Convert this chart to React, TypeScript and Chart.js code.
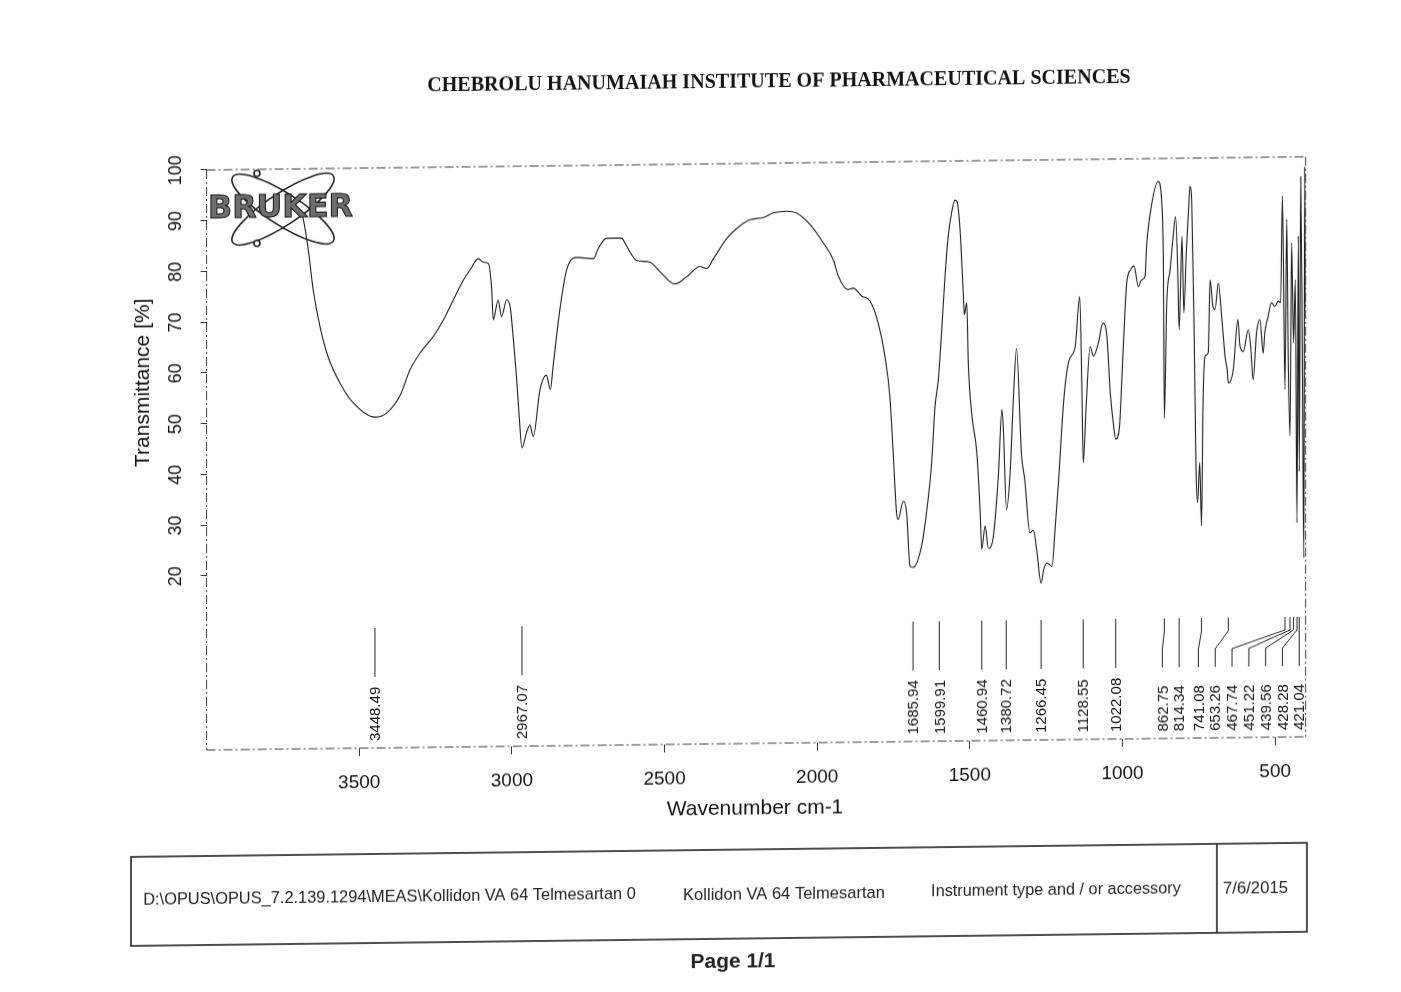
import React, { useEffect, useRef } from "react";
import { Chart, registerables } from "chart.js";

Chart.register(...registerables);

const wavenumbers = [
  3693, 3685, 3667, 3651, 3629, 3602, 3563, 3520, 3448.5, 3410, 3367, 3334, 3301, 3257, 3224, 3192,
  3159, 3137, 3110, 3094, 3077, 3066, 3061, 3045, 3034, 3017, 3006, 2996, 2985, 2976, 2967, 2952,
  2941, 2930, 2908, 2887, 2874, 2865, 2843, 2821, 2789, 2733, 2717, 2690, 2641, 2625, 2592, 2548,
  2515, 2466, 2428, 2384, 2362, 2339, 2296, 2264, 2220, 2176, 2144, 2100, 2066, 2023, 1979, 1947,
  1930, 1898, 1882, 1854, 1827, 1800, 1778, 1762, 1751, 1740, 1735, 1718, 1707, 1696, 1686, 1658,
  1642, 1625, 1614, 1603, 1592, 1582, 1571, 1560, 1549, 1542, 1532, 1521, 1518, 1510, 1505, 1494,
  1477, 1466, 1461, 1450, 1439, 1423, 1406, 1395, 1390, 1380, 1368, 1357, 1347, 1331, 1320, 1303,
  1292, 1281, 1266.5, 1258, 1247, 1231, 1220, 1209, 1193, 1176, 1155, 1140, 1133, 1128.5, 1119, 1106,
  1095, 1079, 1064, 1051, 1040, 1029, 1022, 1010, 1002, 992, 986, 973, 962, 948, 938, 926,
  921, 912, 883, 871, 866, 862.7, 855, 844, 834, 826, 819, 814.3, 805, 799, 791, 784,
  779, 773, 765, 759, 754, 747, 741, 736, 729, 719, 713, 704, 697, 686, 675, 664,
  657, 653.3, 637, 622, 615, 604, 588, 580, 572, 561, 550, 539, 534, 523, 512, 501,
  490, 482, 476, 467.7, 462, 457, 451.2, 446, 439.6, 434, 428.3, 424, 421, 416, 411, 406,
  403, 400,
];

const transmittance = [
  91.6, 90.5, 84.1, 76.2, 69.0, 62.9, 57.7, 53.8, 50.9, 51.7, 55.0, 60.1, 63.4, 66.7, 69.9, 73.8,
  77.7, 79.7, 81.9, 81.2, 80.9, 75.7, 69.8, 73.7, 70.4, 73.7, 72.5, 66.5, 58.6, 50.7, 44.5, 47.5,
  49.0, 46.7, 55.9, 58.8, 55.9, 60.5, 71.6, 79.4, 81.9, 81.6, 83.6, 85.6, 85.6, 84.1, 81.2, 80.8,
  78.9, 76.4, 77.8, 79.8, 79.4, 81.4, 85.3, 87.2, 88.9, 89.3, 90.2, 90.5, 90.1, 87.8, 84.1, 80.8,
  77.5, 74.9, 75.2, 73.6, 72.6, 68.2, 61.7, 53.8, 42.6, 30.8, 29.5, 33.1, 30.8, 20.3, 20.0, 24.2,
  30.7, 40.6, 51.7, 57.0, 66.8, 76.6, 85.1, 89.7, 92.3, 92.0, 86.4, 73.3, 69.7, 72.0, 60.2, 50.3,
  42.4, 30.6, 23.4, 28.0, 23.6, 25.9, 38.4, 50.9, 46.9, 31.2, 38.4, 53.5, 62.9, 42.2, 37.0, 26.5,
  27.1, 23.2, 16.6, 19.3, 20.6, 19.9, 27.8, 37.0, 52.1, 60.2, 63.1, 73.0, 55.2, 40.2, 51.3, 63.1,
  61.2, 63.8, 67.7, 65.1, 54.0, 47.4, 44.8, 47.1, 56.6, 69.7, 75.6, 78.2, 78.9, 74.8, 76.1, 76.8,
  82.7, 88.0, 95.5, 91.1, 79.3, 48.8, 71.5, 78.0, 84.6, 88.5, 78.0, 66.2, 84.6, 69.5, 81.3, 89.2,
  94.4, 91.1, 64.9, 38.6, 32.1, 40.0, 27.5, 51.8, 61.0, 61.6, 76.0, 70.8, 70.1, 75.3, 68.7, 60.9,
  58.2, 55.6, 58.2, 68.1, 62.8, 61.8, 66.0, 62.7, 56.2, 65.3, 68.0, 61.4, 65.3, 68.6, 71.3, 70.6,
  71.6, 71.3, 92.3, 54.2, 87.7, 60.1, 45.0, 83.1, 63.4, 75.8, 27.9, 84.4, 38.0, 96.1, 62.0, 21.0,
  98.0, 70.0,
];

const peakPositions = [
  3448.49, 2967.07, 1685.94, 1599.91, 1460.94, 1380.72, 1266.45, 1128.55, 1022.08,
  862.75, 814.34, 741.08, 653.26, 467.74, 451.22, 439.56, 428.28, 421.04,
];
const peakLabels = [
  "3448.49", "2967.07", "1685.94", "1599.91", "1460.94", "1380.72", "1266.45", "1128.55", "1022.08",
  "862.75", "814.34", "741.08", "653.26", "467.74", "451.22", "439.56", "428.28", "421.04",
];

const xTickValues = [3500, 3000, 2500, 2000, 1500, 1000, 500];
const yTickValues = [20, 30, 40, 50, 60, 70, 80, 90, 100];

const titleText = "CHEBROLU HANUMAIAH INSTITUTE OF PHARMACEUTICAL SCIENCES";
const xTitle = "Wavenumber cm-1";
const yTitle = "Transmittance [%]";
const logoText = "BRUKER";
const footerPath = "D:\\OPUS\\OPUS_7.2.139.1294\\MEAS\\Kollidon VA 64 Telmesartan 0";
const footerSample = "Kollidon VA 64 Telmesartan";
const footerInstrument = "Instrument type and / or accessory";
const footerDate = "7/6/2015";
const pageText = "Page 1/1";

const SANS = '"Liberation Sans", Arial, sans-serif';
const SERIF = '"Liberation Serif", "Times New Roman", serif';

function fitSize(ctx: CanvasRenderingContext2D, text: string, width: number, style: string, family: string) {
  ctx.font = `${style} 100px ${family}`;
  const w = ctx.measureText(text).width;
  return (100 * width) / w;
}

function drawFitted(
  ctx: CanvasRenderingContext2D,
  text: string,
  cx: number,
  cy: number,
  width: number,
  style: string,
  family: string,
  color: string
) {
  const size = fitSize(ctx, text, width, style, family);
  ctx.font = `${style} ${size}px ${family}`;
  ctx.fillStyle = color;
  ctx.textAlign = "center";
  ctx.textBaseline = "middle";
  ctx.fillText(text, cx, cy);
}

const decorPlugin = {
  id: "decor",
  afterDraw(chart: any) {
    const { ctx, chartArea, scales } = chart;
    const xs = scales.x;
    const ys = scales.y;
    ctx.save();

    // plot frame (scanned, broken thin lines)
    const top = ys.getPixelForValue(100);
    ctx.strokeStyle = "#3a3a3a";
    ctx.lineWidth = 1;
    ctx.setLineDash([9, 3, 2, 3]);
    ctx.beginPath();
    ctx.moveTo(chartArea.left, top);
    ctx.lineTo(chartArea.right, top);
    ctx.moveTo(chartArea.right, top);
    ctx.lineTo(chartArea.right, chartArea.bottom);
    ctx.moveTo(chartArea.left, chartArea.bottom);
    ctx.lineTo(chartArea.right, chartArea.bottom);
    ctx.moveTo(chartArea.left, top);
    ctx.lineTo(chartArea.left, chartArea.bottom);
    ctx.stroke();
    ctx.setLineDash([]);

    // peak markers
    const n = peakPositions.length;
    const px = peakPositions.map((p) => xs.getPixelForValue(p));
    const order = px.map((_, i) => i).sort((a, b) => px[a] - px[b]);
    const lab: number[] = new Array(n);
    let next = Infinity;
    for (let k = n - 1; k >= 0; k--) {
      const i = order[k];
      lab[i] = Math.min(px[i], next - 16.8);
      next = lab[i];
    }
    const lineTop = 630;
    const bendA = 643;
    const bendB = 661;
    const lineBottom = 679;
    ctx.strokeStyle = "#222";
    ctx.lineWidth = 1;
    ctx.font = `15px ${SANS}`;
    ctx.fillStyle = "#111";
    for (let i = 0; i < n; i++) {
      ctx.beginPath();
      ctx.moveTo(px[i], lineTop);
      if (Math.abs(px[i] - lab[i]) < 0.6) {
        ctx.lineTo(px[i], lineBottom);
      } else {
        ctx.lineTo(px[i], bendA);
        ctx.lineTo(lab[i], bendB);
        ctx.lineTo(lab[i], lineBottom);
      }
      ctx.stroke();
      ctx.save();
      ctx.translate(lab[i] + 1, 743);
      ctx.rotate(-Math.PI / 2);
      ctx.textAlign = "left";
      ctx.textBaseline = "middle";
      ctx.fillText(peakLabels[i], 0, 0);
      ctx.restore();
    }

    // axis titles
    ctx.fillStyle = "#111";
    ctx.font = `21px ${SANS}`;
    ctx.textAlign = "center";
    ctx.textBaseline = "middle";
    ctx.fillText(xTitle, 755, 815);
    ctx.save();
    ctx.translate(143, 382);
    ctx.rotate(-Math.PI / 2);
    ctx.fillText(yTitle, 0, 0);
    ctx.restore();

    // main title
    drawFitted(ctx, titleText, 779, 89, 704, "bold", SERIF, "#111");

    // logo
    ctx.save();
    ctx.translate(283, 210);
    ctx.strokeStyle = "#222";
    ctx.lineWidth = 1.6;
    for (const ang of [33, -33]) {
      ctx.save();
      ctx.rotate((ang * Math.PI) / 180);
      ctx.beginPath();
      ctx.ellipse(0, 0, 60, 16, 0, 0, Math.PI * 2);
      ctx.stroke();
      ctx.restore();
    }
    for (const [ex, ey] of [[-26, -36], [-26, 34]]) {
      ctx.beginPath();
      ctx.arc(ex, ey, 3, 0, Math.PI * 2);
      ctx.fillStyle = "#fff";
      ctx.fill();
      ctx.stroke();
    }
    ctx.restore();
    const lsize = fitSize(ctx, logoText, 145, "bold", '"DejaVu Sans", sans-serif');
    ctx.font = `bold ${lsize}px "DejaVu Sans", sans-serif`;
    ctx.textAlign = "center";
    ctx.textBaseline = "middle";
    ctx.fillStyle = "#6e6e6e";
    ctx.fillText(logoText, 280.5, 210);
    ctx.strokeStyle = "#111";
    ctx.lineWidth = 1;
    ctx.strokeText(logoText, 280.5, 210);

    // footer box
    ctx.strokeStyle = "#222";
    ctx.lineWidth = 1.6;
    ctx.strokeRect(131, 856, 1176, 89);
    ctx.beginPath();
    ctx.moveTo(1217, 856);
    ctx.lineTo(1217, 945);
    ctx.stroke();
    drawFitted(ctx, footerPath, 143 + 493 / 2, 899, 493, "normal", SANS, "#222");
    drawFitted(ctx, footerSample, 784, 901, 202, "normal", SANS, "#222");
    drawFitted(ctx, footerInstrument, 1056, 901, 250, "normal", SANS, "#222");
    drawFitted(ctx, footerDate, 1255.5, 901, 65, "normal", SANS, "#222");
    drawFitted(ctx, pageText, 733, 968, 85, "bold", SANS, "#222");

    ctx.restore();
  },
};

export default function App() {
  const canvasRef = useRef<HTMLCanvasElement | null>(null);

  useEffect(() => {
    const canvas = canvasRef.current;
    if (!canvas) return;
    const points = wavenumbers.map((w, i) => ({ x: w, y: transmittance[i] }));
    const chart = new Chart(canvas, {
      type: "line",
      data: {
        datasets: [
          {
            data: points,
            borderColor: "#1c1c1c",
            borderWidth: 1.1,
            pointRadius: 0,
            fill: false,
            cubicInterpolationMode: "monotone",
          },
        ],
      },
      options: {
        responsive: false,
        animation: false,
        events: [],
        layout: {
          padding: { left: 206.6 - 90, top: 164.925, right: 1401 - 1305.7, bottom: 992 - 750 - 60 },
        },
        plugins: {
          legend: { display: false },
          tooltip: { enabled: false },
          title: { display: false },
        },
        scales: {
          x: {
            type: "linear",
            reverse: true,
            min: 400,
            max: 4000,
            afterBuildTicks: (s: any) => {
              s.ticks = xTickValues.map((v) => ({ value: v }));
            },
            afterFit: (s: any) => {
              s.height = 60;
            },
            grid: { display: true, drawOnChartArea: false, drawTicks: true, tickLength: 8, color: "#333" },
            border: { display: false },
            ticks: {
              color: "#111",
              font: { family: SANS, size: 19 },
              padding: 15,
              maxRotation: 0,
              autoSkip: false,
              callback: (v: any) => String(v),
            },
          },
          y: {
            type: "linear",
            min: -14.29,
            max: 101,
            afterBuildTicks: (s: any) => {
              s.ticks = yTickValues.map((v) => ({ value: v }));
            },
            afterFit: (s: any) => {
              s.width = 90;
            },
            grid: { display: true, drawOnChartArea: false, drawTicks: true, tickLength: 6, color: "#333" },
            border: { display: false },
            ticks: {
              color: "#111",
              font: { family: SANS, size: 18 },
              padding: 10,
              minRotation: 90,
              maxRotation: 90,
              crossAlign: "center",
              autoSkip: false,
              callback: (v: any) => String(v),
            },
          },
        },
      },
      plugins: [decorPlugin],
    } as any);
    return () => chart.destroy();
  }, []);

  return (
    <div
      style={{
        position: "fixed",
        left: 0,
        top: 0,
        width: 1401,
        height: 992,
        background: "#fff",
        transform: "skewY(-0.69deg)",
        transformOrigin: "207px 170px",
      }}
    >
      <canvas ref={canvasRef} width={1401} height={992} style={{ display: "block" }} />
    </div>
  );
}
